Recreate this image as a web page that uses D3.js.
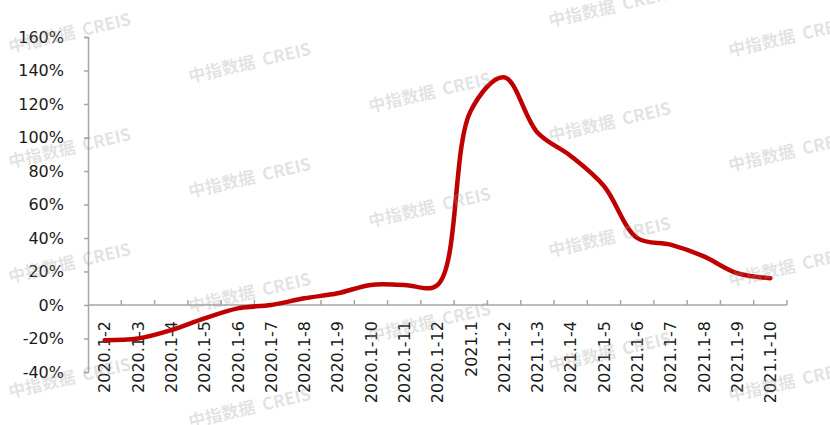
<!DOCTYPE html>
<html>
<head>
<meta charset="utf-8">
<script src="https://cdn.jsdelivr.net/npm/d3@7/dist/d3.min.js"></script>
<style>
  html, body { margin: 0; padding: 0; background: #ffffff; }
  svg { display: block; }
</style>
</head>
<body>
<svg id="chart" width="830" height="425"></svg>
<script>
// ---- data ----
const categories = ["2020.1-2","2020.1-3","2020.1-4","2020.1-5","2020.1-6","2020.1-7","2020.1-8","2020.1-9","2020.1-10","2020.1-11","2020.1-12",
  "2021.1","2021.1-2","2021.1-3","2021.1-4","2021.1-5","2021.1-6","2021.1-7","2021.1-8","2021.1-9","2021.1-10"];
const values = [-21, -20, -15, -8, -2, 0, 4, 7, 12, 12, 12,
  116, 136, 103, 89, 71, 40, 36, 29, 19, 16];
const yTicks = [-40, -20, 0, 20, 40, 60, 80, 100, 120, 140, 160];
const watermarkText = "中指数据  CREIS";

// ---- layout ----
const svg = d3.select("#chart");
const plotL = 88, plotR = 787, plotT = 37, plotB = 372;
const x = d3.scaleBand().domain(categories).range([plotL, plotR]).padding(0);
const y = d3.scaleLinear().domain([-40, 160]).range([plotB, plotT]);
const axisColor = "#a6a6a6";
const textColor = "#1a1a1a";

// y axis
const yAxis = d3.axisLeft(y).tickValues(yTicks).tickSize(4).tickPadding(20)
  .tickFormat(d => d + "%");
const yg = svg.append("g").attr("transform", `translate(${plotL},0)`).call(yAxis);
yg.select(".domain").attr("stroke", axisColor).attr("stroke-width", 1.5);
yg.selectAll(".tick line").attr("stroke", axisColor).attr("stroke-width", 1.5);
yg.selectAll(".tick text").attr("fill", textColor)
  .style("font-family", "'DejaVu Sans', Verdana, sans-serif").style("font-size", "16px");

// x axis at 0% with upward ticks on category boundaries
const xg = svg.append("g");
xg.append("line").attr("x1", plotL).attr("x2", plotR).attr("y1", y(0)).attr("y2", y(0))
  .attr("stroke", axisColor).attr("stroke-width", 1.5);
xg.selectAll("line.tk").data(categories).enter().append("line").attr("class", "tk")
  .attr("x1", d => x(d) + x.bandwidth()).attr("x2", d => x(d) + x.bandwidth())
  .attr("y1", y(0)).attr("y2", y(0) - 5)
  .attr("stroke", axisColor).attr("stroke-width", 1.5);

// x labels (rotated, anchored at top)
const labelTop = 321;
svg.append("g").selectAll("text").data(categories).enter().append("text")
  .attr("transform", d => `translate(${x(d) + x.bandwidth() / 2},${labelTop}) rotate(-90)`)
  .attr("text-anchor", "end").attr("dy", "0.36em")
  .attr("fill", textColor)
  .style("font-family", "'DejaVu Sans', Verdana, sans-serif").style("font-size", "16px")
  .text(d => d);

// line
const line = d3.line()
  .x((d, i) => x(categories[i]) + x.bandwidth() / 2)
  .y(d => y(d))
  .curve(d3.curveCatmullRom.alpha(0.5));
svg.append("path").datum(values).attr("d", line)
  .attr("fill", "none").attr("stroke", "#c00000").attr("stroke-width", 4.5)
  .attr("stroke-linecap", "round").attr("stroke-linejoin", "round");

// watermarks
const wm = svg.append("g").attr("pointer-events", "none");
for (let c = 0; c < 5; c++) {
  for (let r = -1; r < 5; r++) {
    const wx = 10 + 180 * c;
    const wy = 53 + 29.7 * c + 115 * r;
    if (wy < 20 || wy > 435) continue;
    wm.append("text")
      .attr("transform", `translate(${wx},${wy}) rotate(-13)`)
      .attr("fill", "#9a9a9a").attr("fill-opacity", 0.28)
      .style("font-family", "'Noto Sans CJK SC', sans-serif").style("font-size", "17px")
      .style("font-weight", "bold")
      .style("white-space", "pre")
      .text(watermarkText);
  }
}
</script>
</body>
</html>
